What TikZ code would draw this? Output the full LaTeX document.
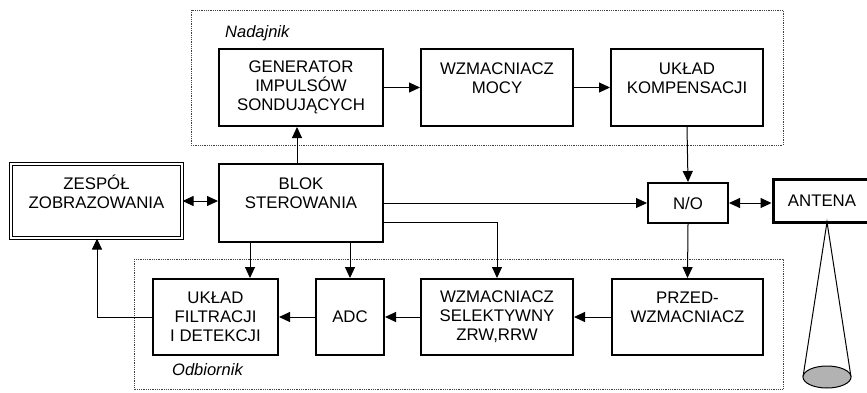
\documentclass[tikz,border=0pt]{standalone}
\usepackage{fontspec}
\setmainfont{Liberation Sans}
\usetikzlibrary{arrows.meta}
\begin{document}
\begin{tikzpicture}[x=1pt,y=-1pt,
  font=\fontsize{16.8}{19}\selectfont,
  blk/.style={draw, line width=2pt, align=center, inner sep=0pt},
  conn/.style={line width=1pt},
  arr/.style={conn, -{Triangle[length=11pt,width=10pt]}},
  darr/.style={conn, {Triangle[length=11pt,width=10pt]}-{Triangle[length=11pt,width=10pt]}},
  grp/.style={draw=black!75, line width=0.8pt, densely dotted},
  grplabel/.style={font=\fontsize{16.5}{19}\selectfont\itshape, anchor=west, inner sep=0pt}]
\useasboundingbox (0,0) rectangle (867,392);

% groups
\draw[grp] (191,10) rectangle (783,145);
\draw[grp] (134,259) rectangle (783,389);
\node[grplabel] (nad) at (225,33) {Nadajnik};
\node[grplabel] (odb) at (172,370) {Odbiornik};

% transmitter row
\node[blk, minimum width=164, minimum height=77] (gen) at (301,87.5) {GENERATOR\\IMPULSÓW\\SONDUJĄCYCH};
\node[blk, minimum width=152, minimum height=77] (wzm) at (497,87.5) {WZMACNIACZ\\MOCY\\~};
\node[blk, minimum width=152, minimum height=77] (komp) at (687,87.5) {UKŁAD\\KOMPENSACJI\\~};

% middle row
\node[draw, double, line width=1.1pt, double distance=1.4pt, align=center, inner sep=0pt,
      minimum width=171, minimum height=74] (zesp) at (96.5,201) {ZESPÓŁ\\ZOBRAZOWANIA\\~};
\node[blk, minimum width=164, minimum height=78] (blok) at (301,203) {BLOK\\STEROWANIA\\~};
\node[blk, minimum width=80, minimum height=40] (no) at (688,203) {N/O};
\node[draw, line width=3pt, inner sep=0pt, minimum width=98, minimum height=43] (ant) at (822,200.5) {ANTENA};

% receiver row
\node[blk, minimum width=125, minimum height=76] (filt) at (215.5,317) {UKŁAD\\FILTRACJI\\I DETEKCJI};
\node[blk, minimum width=68, minimum height=76] (adc) at (350,317) {ADC};
\node[blk, minimum width=152, minimum height=76] (sel) at (497,317) {WZMACNIACZ\\SELEKTYWNY\\ZRW,RRW};
\node[blk, minimum width=151, minimum height=76] (przed) at (687.5,317) {PRZED-\\WZMACNIACZ\\~};

% antenna beam
\coordinate (apex) at (827,222);
\coordinate (bl) at (803,377);
\coordinate (br) at (851,377);
\draw[line width=1pt] (bl) -- (apex) -- (br);
\draw[line width=1pt, fill=black!30] (827,377) ellipse [x radius=24, y radius=11];

% connectors
\draw[arr] (blok.north -| 297,0) -- (gen.south -| 297,0);
\draw[arr] (gen.east) -- (wzm.west);
\draw[arr] (wzm.east) -- (komp.west);
\draw[arr] (komp.south) -- (no.north);
\draw[darr] (zesp.east) -- (zesp.east -| blok.west);
\draw[arr] (blok.east |- no.west) -- (no.west);
\draw[arr] ([yshift=-19pt]blok.east) -| (sel.north);
\draw[darr] (no.east) -- (no.east -| ant.west);
\draw[arr] (no.south) -- (przed.north);
\draw[arr] (przed.west) -- (sel.east);
\draw[arr] (sel.west) -- (adc.east);
\draw[arr] (adc.west) -- (filt.east);
\draw[arr] (blok.south -| 250,0) -- (filt.north -| 250,0);
\draw[arr] (blok.south -| adc.north) -- (adc.north);
\coordinate (bend) at (97,317);
\draw[arr] (filt.west) -- (bend) -- (zesp.south -| bend);
\end{tikzpicture}
\end{document}
